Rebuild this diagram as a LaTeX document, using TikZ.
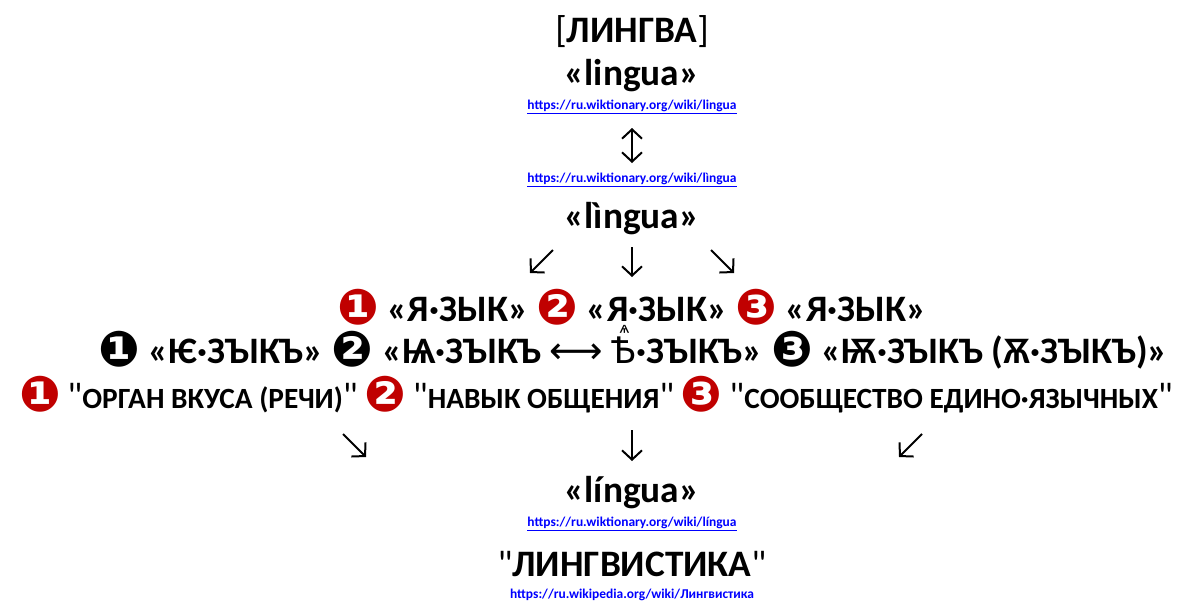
\documentclass[tikz,border=0pt]{standalone}
\usepackage{fontspec}
\setmainfont{Carlito}
\newfontfamily\symfont{DejaVu Sans}
\newfontfamily\oldfont{Noto Sans}
\newfontfamily\qfont{Carlito}
\usetikzlibrary{arrows.meta}
\definecolor{numred}{HTML}{C00000}
\definecolor{linkblue}{HTML}{0000FF}
\newcommand{\rnum}[1]{{\color{numred}\fontsize{37}{40}\symfont\raisebox{-2.5pt}{#1}}}
\newcommand{\bnum}[1]{{\fontsize{37}{40}\symfont\raisebox{-2.5pt}{#1}}}
\newcommand{\qt}{{\qfont\mdseries\fontsize{28}{32}\selectfont"}}

\begin{document}
\begin{tikzpicture}[
  x=0.75pt, y=-0.75pt,
  row/.style={font=\fontsize{28}{32}\selectfont\bfseries, anchor=base, inner sep=0pt},
  small/.style={font=\fontsize{22}{26}\selectfont\bfseries, anchor=base, inner sep=0pt},
  url/.style={font=\fontsize{10.1}{12}\selectfont\bfseries, text=linkblue, anchor=base, inner sep=0pt},
  ar/.style={-{Straight Barb[length=7pt,width=15pt]}, line width=1.5pt},
  ar2/.style={{Straight Barb[length=7pt,width=15pt]}-{Straight Barb[length=7pt,width=15pt]}, line width=1.5pt}
]
\useasboundingbox (0,0) rectangle (1185,601);

\node[row] (title) at (632,42)  {{\mdseries[}ЛИНГВА{\mdseries]}};
\node[row] (lat1)  at (632,85)  {«lingua»};
\node[url] (url1)  at (632,109) {\underline{https://ru.wiktionary.org/wiki/lingua}};
\node[url] (url2)  at (632,182) {\underline{https://ru.wiktionary.org/wiki/lìngua}};
\node[row] (lat2)  at (632,228) {«lìngua»};

\node[row] (yaz)    at (632,321) {\rnum{❶} «Я·ЗЫК» \rnum{❷} «Я·ЗЫК» \rnum{❸} «Я·ЗЫК»};
\node[row] (oldyaz) at (633,363) {\bnum{❶} «Ѥ·ЗЪІКЪ» \bnum{❷} «Ѩ·ЗЪІКЪ {\symfont\mdseries ⟷} {\oldfont Ѣⷽ}·ЗЪІКЪ» \bnum{❸} «Ѭ·ЗЪІКЪ (Ѫ·ЗЪІКЪ)»};
\node[small] (sense) at (596,408) {\rnum{❶} \qt ОРГАН ВКУСА (РЕЧИ)\qt\ \rnum{❷} \qt НАВЫК ОБЩЕНИЯ\qt\ \rnum{❸} \qt СООБЩЕСТВО ЕДИНО·ЯЗЫЧНЫХ\qt};

\node[row] (lat3)  at (632,502) {«língua»};
\node[url] (url3)  at (632,526) {\underline{https://ru.wiktionary.org/wiki/língua}};
\node[row] (ling)  at (632,576) {\qt ЛИНГВИСТИКА\qt};
\node[url] (url4)  at (632,598) {\underline{https://ru.wikipedia.org/wiki/Лингвистика}};

% arrows
\coordinate (v1) at (632,128);
\coordinate (v2) at (632,163);
\draw[ar2] (v1) -- (v2);

\coordinate (a1) at (553,250); \coordinate (a2) at (530,273);
\coordinate (b1) at (632,247); \coordinate (b2) at (632,277);
\coordinate (c1) at (711,250); \coordinate (c2) at (734,273);
\draw[ar] (a1) -- (a2);
\draw[ar] (b1) -- (b2);
\draw[ar] (c1) -- (c2);

\coordinate (d1) at (343,434); \coordinate (d2) at (366,457);
\coordinate (e1) at (632,430); \coordinate (e2) at (632,461);
\coordinate (f1) at (922,434); \coordinate (f2) at (899,457);
\draw[ar] (d1) -- (d2);
\draw[ar] (e1) -- (e2);
\draw[ar] (f1) -- (f2);
\end{tikzpicture}
\end{document}
